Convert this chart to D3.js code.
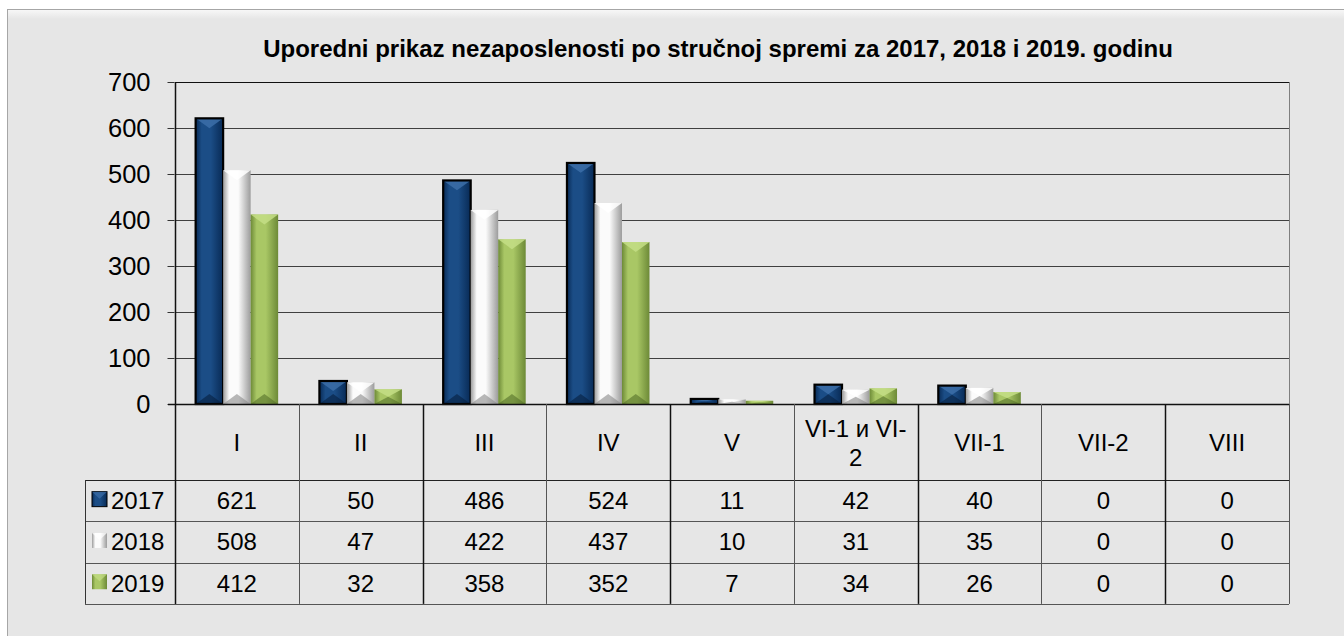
<!DOCTYPE html>
<html>
<head>
<meta charset="utf-8">
<script src="https://cdn.jsdelivr.net/npm/d3@7/dist/d3.min.js"></script>
<style>
  body { margin: 0; background: #fff; }
  text { font-family: Arial, "Liberation Sans", sans-serif; fill: #000; }
</style>
</head>
<body>
<script>
// data
var categories = ["I", "II", "III", "IV", "V", "VI-1 и VI-2", "VII-1", "VII-2", "VIII"];
var years = ["2017", "2018", "2019"];
var values2017 = [621, 50, 486, 524, 11, 42, 40, 0, 0];
var values2018 = [508, 47, 422, 437, 10, 31, 35, 0, 0];
var values2019 = [412, 32, 358, 352, 7, 34, 26, 0, 0];
var yTicks = [0, 100, 200, 300, 400, 500, 600, 700];
var title = "Uporedni prikaz nezaposlenosti po stručnoj spremi za 2017, 2018 i 2019. godinu";

var series = [values2017, values2018, values2019];

// colours for each year: [edge, centre, top bevel, bottom bevel]
var palette = {
  "2017": ["#082a55", "#1b4d86", "#3c6ea8", "#061f40"],
  "2018": ["#9c9c9c", "#fbfbfb", "#ffffff", "#8a8a8a"],
  "2019": ["#6d8a37", "#a9c765", "#c4de86", "#55702a"]
};

var W = 1344, H = 636;
var plot = {left: 175, right: 1289, top: 82, bottom: 404};
var table = {left: 85, header: 480, row: 41.3};
var fontSize = 24;

var svg = d3.select("body").append("svg")
    .attr("width", W)
    .attr("height", H);

var defs = svg.append("defs");

// chart panel
var panelGrad = defs.append("linearGradient")
    .attr("id", "panelTop").attr("x1", 0).attr("y1", 0).attr("x2", 0).attr("y2", 1);
panelGrad.append("stop").attr("offset", "0%").attr("stop-color", "#f7f7f7");
panelGrad.append("stop").attr("offset", "100%").attr("stop-color", "#e6e6e6");

svg.append("rect")
    .attr("x", 7.5).attr("y", 9.5)
    .attr("width", W).attr("height", H)
    .attr("fill", "#e6e6e6")
    .attr("stroke", "#a6a6a6");
svg.append("rect")
    .attr("x", 8).attr("y", 10)
    .attr("width", W).attr("height", 9)
    .attr("fill", "url(#panelTop)");

// gradients for the bevelled bars
years.forEach(function(y) {
  var c = palette[y];
  var g = defs.append("linearGradient")
      .attr("id", "bar" + y).attr("x1", 0).attr("y1", 0).attr("x2", 1).attr("y2", 0);
  g.append("stop").attr("offset", "0%").attr("stop-color", c[0]);
  g.append("stop").attr("offset", "22%").attr("stop-color", c[1]);
  g.append("stop").attr("offset", "55%").attr("stop-color", c[1]);
  g.append("stop").attr("offset", "100%").attr("stop-color", c[0]);
});

// scales
var x0 = d3.scaleBand()
    .domain(categories)
    .range([plot.left, plot.right]);

var x1 = d3.scaleBand()
    .domain(years)
    .range([0, x0.bandwidth()])
    .paddingOuter(0.75);

var y = d3.scaleLinear()
    .domain([0, 700])
    .range([plot.bottom, plot.top]);

// title
svg.append("text")
    .attr("x", 718)
    .attr("y", 57)
    .attr("text-anchor", "middle")
    .style("font-size", "24px")
    .style("font-weight", "bold")
    .text(title);

// gridlines
svg.append("g").selectAll("line")
    .data(yTicks.slice(1))
    .enter().append("line")
    .attr("x1", plot.left).attr("x2", plot.right)
    .attr("y1", function(d) { return Math.round(y(d)) + 0.5; })
    .attr("y2", function(d) { return Math.round(y(d)) + 0.5; })
    .attr("stroke", function(d) { return d == 700 ? "#111" : "#404040"; })
    .attr("stroke-width", 1);

svg.append("line")
    .attr("x1", plot.right + 0.5).attr("x2", plot.right + 0.5)
    .attr("y1", plot.top).attr("y2", plot.bottom)
    .attr("stroke", "#7f7f7f");

// y axis
var yAxis = d3.axisLeft(y)
    .tickValues(yTicks)
    .tickSize(7)
    .tickPadding(17);

var ga = svg.append("g")
    .attr("transform", "translate(" + (plot.left - 0.5) + ",0)")
    .call(yAxis);
ga.select(".domain").remove();
ga.selectAll(".tick line").attr("stroke", "#333");
ga.selectAll(".tick text")
    .style("font-size", "25.5px")
    .style("font-family", "Arial, 'Liberation Sans', sans-serif")
    .attr("fill", "#000");

// bars
var groups = svg.append("g").selectAll("g")
    .data(categories)
    .enter().append("g")
    .attr("transform", function(d) { return "translate(" + x0(d) + ",0)"; });

var bars = groups.selectAll("g")
    .data(function(d, i) {
      return years.map(function(yr, k) { return {year: yr, value: series[k][i]}; });
    })
    .enter().append("g")
    .filter(function(d) { return d.value > 0; });

bars.append("rect")
    .attr("x", function(d) { return x1(d.year); })
    .attr("y", function(d) { return y(d.value); })
    .attr("width", x1.bandwidth())
    .attr("height", function(d) { return y(0) - y(d.value); })
    .attr("fill", function(d) { return "url(#bar" + d.year + ")"; });

// top bevel
bars.append("path")
    .attr("d", function(d) {
      var bx = x1(d.year), bw = x1.bandwidth(), top = y(d.value);
      var dep = Math.min(bw * 0.36, (y(0) - top) / 2);
      return "M" + bx + "," + top + "L" + (bx + bw) + "," + top +
             "L" + (bx + bw / 2) + "," + (top + dep) + "Z";
    })
    .attr("fill", function(d) { return palette[d.year][2]; })
    .attr("opacity", 0.85);

// bottom bevel
bars.append("path")
    .attr("d", function(d) {
      var bx = x1(d.year), bw = x1.bandwidth(), top = y(d.value), bot = y(0);
      var dep = Math.min(bw * 0.36, (bot - top) / 2);
      return "M" + bx + "," + bot + "L" + (bx + bw) + "," + bot +
             "L" + (bx + bw / 2) + "," + (bot - dep) + "Z";
    })
    .attr("fill", function(d) { return palette[d.year][3]; })
    .attr("opacity", 0.6);

// outline on the 2017 bars
bars.filter(function(d) { return d.year == "2017"; })
    .append("rect")
    .attr("x", function(d) { return x1(d.year); })
    .attr("y", function(d) { return y(d.value); })
    .attr("width", x1.bandwidth())
    .attr("height", function(d) { return y(0) - y(d.value); })
    .attr("fill", "none")
    .attr("stroke", "#000")
    .attr("stroke-width", 2.2);

// data table
var tbl = svg.append("g");
var tableBottom = table.header + table.row * 3;

// horizontal lines of the table
tbl.append("line")
    .attr("x1", plot.left - 7).attr("x2", plot.right)
    .attr("y1", plot.bottom + 0.5).attr("y2", plot.bottom + 0.5)
    .attr("stroke", "#111").attr("stroke-width", 1.5);

tbl.selectAll("line.row")
    .data(d3.range(4))
    .enter().append("line")
    .attr("class", "row")
    .attr("x1", table.left).attr("x2", plot.right)
    .attr("y1", function(i) { return Math.round(table.header + i * table.row) + 0.5; })
    .attr("y2", function(i) { return Math.round(table.header + i * table.row) + 0.5; })
    .attr("stroke", function(i) { return i == 0 ? "#222" : "#555"; });

// vertical lines of the table
tbl.selectAll("line.col")
    .data(categories.concat(["end"]))
    .enter().append("line")
    .attr("class", "col")
    .attr("x1", function(d, i) { return Math.round(i < categories.length ? x0(d) : plot.right) + 0.5; })
    .attr("x2", function(d, i) { return Math.round(i < categories.length ? x0(d) : plot.right) + 0.5; })
    .attr("y1", function(d, i) { return i == 0 ? plot.top : plot.bottom; })
    .attr("y2", tableBottom)
    .attr("stroke", function(d, i) { return (i % 2 == 0) ? "#111" : "#555"; })
    .attr("stroke-width", function(d, i) { return (i % 2 == 0) ? 1.5 : 1; });

tbl.append("line")
    .attr("x1", table.left + 0.5).attr("x2", table.left + 0.5)
    .attr("y1", table.header).attr("y2", tableBottom)
    .attr("stroke", "#333");

// wrap a category label into lines that fit the cell
function wrapLabel(str, maxW) {
  var tokens = str.split(/(?<=[- ])/);
  var probe = svg.append("text").style("font-size", fontSize + "px");
  var lines = [], cur = "";
  tokens.forEach(function(t) {
    probe.text(cur + t);
    if (cur && probe.node().getComputedTextLength() > maxW) {
      lines.push(cur);
      cur = t;
    } else {
      cur += t;
    }
  });
  lines.push(cur);
  probe.remove();
  return lines;
}

// header row: category names
tbl.selectAll("text.cat")
    .data(categories)
    .enter().append("text")
    .attr("class", "cat")
    .attr("text-anchor", "middle")
    .style("font-size", fontSize + "px")
    .each(function(d) {
      var lines = wrapLabel(d, 106);
      var cx = x0(d) + x0.bandwidth() / 2;
      var cy = (plot.bottom + table.header) / 2;
      var t = d3.select(this);
      lines.forEach(function(l, k) {
        t.append("tspan")
          .attr("x", cx)
          .attr("y", cy + 9 + (k - (lines.length - 1) / 2) * 29)
          .text(l);
      });
    });

// data rows
years.forEach(function(yr, k) {
  var rowMid = table.header + table.row * (k + 0.5);
  var c = palette[yr];

  // legend key
  tbl.append("rect")
      .attr("x", 92).attr("y", rowMid - 9)
      .attr("width", 15).attr("height", 15)
      .attr("fill", "url(#bar" + yr + ")")
      .attr("stroke", yr == "2017" ? "#000" : "none");
  tbl.append("path")
      .attr("d", "M92," + (rowMid - 9) + "L107," + (rowMid - 9) + "L99.5," + (rowMid - 2) + "Z")
      .attr("fill", c[2]).attr("opacity", 0.7);

  tbl.append("text")
      .attr("x", 111)
      .attr("y", rowMid + 8.5)
      .style("font-size", fontSize + "px")
      .text(yr);

  tbl.selectAll("text.v" + yr)
      .data(series[k])
      .enter().append("text")
      .attr("class", "v" + yr)
      .attr("x", function(d, i) { return x0(categories[i]) + x0.bandwidth() / 2; })
      .attr("y", rowMid + 8.5)
      .attr("text-anchor", "middle")
      .style("font-size", fontSize + "px")
      .text(function(d) { return d; });
});
</script>
</body>
</html>
